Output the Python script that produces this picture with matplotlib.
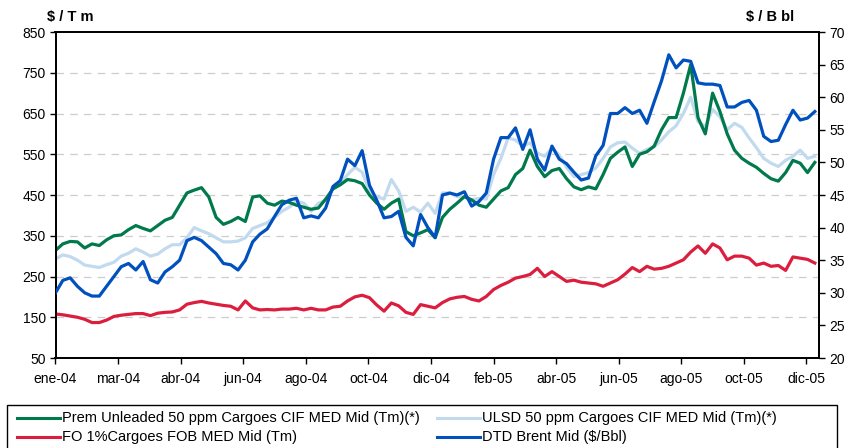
import numpy as np
import pandas as pd
import matplotlib
matplotlib.use("Agg")
import matplotlib.pyplot as plt
from matplotlib.lines import Line2D
from matplotlib.patches import Rectangle

plt.rcParams['font.family'] = ['Liberation Sans', 'DejaVu Sans']

# weekly readings, ene-04 .. dic-05
fechas = pd.date_range('2004-01-01', periods=105, freq='7D')

gasolina = [314, 330, 336, 335, 320, 330, 326, 340, 350, 352, 365, 375, 368, 362, 375, 388, 395, 425,
            455, 462, 468, 445, 395, 378, 385, 395, 385, 445, 448, 430, 425, 435, 432, 425,
            420, 415, 418, 440, 465, 475, 488, 485, 478, 450, 430, 415, 430, 440, 360, 350, 357, 365,
            345, 395, 415, 430, 446, 438, 425, 420, 440, 460, 468, 500, 515, 560, 520, 495, 510, 515,
            490, 470,
            463, 470, 465, 500, 540, 555, 568, 520, 550, 556, 570, 610, 640, 640, 700, 770, 640, 600,
            700, 655, 600, 560, 540, 528, 518, 503, 490, 484, 505, 535, 528, 505, 530]

ulsd = [293, 303, 299, 290, 278, 275, 272, 279, 285, 300, 307, 318, 310, 300, 305, 318, 328, 328,
        345, 370, 362, 355, 345, 335, 335, 337, 345, 368, 375, 382, 395, 410, 420, 435,
        430, 410, 430, 436, 465, 478, 500, 518, 506, 460, 446, 440, 488, 460, 410, 420, 408, 430,
        405, 455, 455, 446, 446, 438, 442, 440, 500, 540, 590, 585, 570, 578, 553, 545, 565, 548,
        518, 495,
        500, 505, 516, 540, 568, 578, 580, 565, 552, 562, 568, 585, 605, 620, 650, 690, 630, 618,
        660, 642, 610, 626, 616, 590, 566, 540, 528, 520, 535, 545, 560, 540, 545]

fuel = [158, 156, 153, 150, 145, 137, 137, 143, 152, 155, 157, 159, 159, 154, 160, 162, 163, 168,
        182, 186, 189, 185, 182, 179, 177, 168, 190, 173, 168, 169, 168, 170, 170, 172,
        168, 172, 168, 168, 175, 177, 190, 200, 204, 198, 180, 165, 185, 178, 162, 157, 181, 177,
        173, 186, 195, 199, 201, 194, 190, 201, 218, 228, 236, 246, 250, 255, 270, 250, 262, 250,
        238, 241,
        236, 234, 232, 226, 234, 242, 256, 272, 262, 275, 268, 270, 275, 283, 291, 310, 325, 307,
        330, 320, 291, 300, 300, 295, 278, 283, 275, 277, 265, 298, 295, 292, 283]

brent = [30.0, 31.9, 32.3, 31.0, 30.0, 29.5, 29.5, 31.0, 32.5, 34.0, 34.5, 33.5, 34.8, 32.0, 31.5,
         33.2, 34.0, 35.0, 38.0, 38.5, 38.0, 37.0, 36.0, 34.5, 34.3, 33.5, 35.0, 37.8, 39.0, 39.8,
         41.7, 43.5, 44.2, 44.5,
         41.5, 41.8, 41.5, 43.0, 46.3, 47.2, 50.5, 49.5, 51.8, 46.5, 44.2, 41.5, 41.7, 42.5, 38.5,
         37.2, 42.0, 40.0, 38.5, 45.0, 45.3, 45.0, 45.5, 43.3, 44.0, 45.3, 50.5, 53.8, 53.8, 55.3,
         52.0, 55.0, 50.5, 48.8, 52.5, 50.5, 49.8, 48.5,
         47.3, 47.6, 51.0, 52.6, 57.5, 57.5, 58.4, 57.5, 58.0, 56.0, 59.3, 62.5, 66.5, 64.5, 65.7,
         65.5, 62.2, 62.0, 62.0, 61.8, 58.5, 58.5, 59.2, 59.5, 58.0, 54.0, 53.2, 53.4, 55.8, 58.0,
         56.5, 56.8, 57.8]

etiquetas_x = ['ene-04', 'mar-04', 'abr-04', 'jun-04', 'ago-04', 'oct-04', 'dic-04',
               'feb-05', 'abr-05', 'jun-05', 'ago-05', 'oct-05', 'dic-05']
ticks_x = pd.date_range('2004-01-01', periods=13, freq='60D')

nombres = ['Prem Unleaded 50 ppm Cargoes CIF MED Mid (Tm)(*)',
           'ULSD 50 ppm Cargoes CIF MED Mid (Tm)(*)',
           'FO 1%Cargoes FOB MED Mid (Tm)',
           'DTD Brent Mid ($/Bbl)']
colores = ['#007A4C', '#C2DAEE', '#DC1E3E', '#0050BE']

W, H = 849, 448
fig = plt.figure(figsize=(W / 100, H / 100), dpi=100)
ax = fig.add_axes([55.5 / W, 1 - 358 / H, (819 - 55.5) / W, (358 - 32) / H])
ax2 = ax.twinx()

lw = 2.3
ax.plot(fechas, ulsd, color=colores[1], lw=lw, zorder=2)
ax.plot(fechas, gasolina, color=colores[0], lw=lw, zorder=3)
ax.plot(fechas, fuel, color=colores[2], lw=lw, zorder=3)
ax2.plot(fechas, brent, color=colores[3], lw=lw, zorder=4)

ax.set_ylim(50, 850)
ax.set_yticks(np.arange(50, 851, 100))
ax2.set_ylim(20, 70)
ax2.set_yticks(np.arange(20, 71, 5))
ax.set_xlim(pd.Timestamp('2004-01-01'), pd.Timestamp('2006-01-02'))
ax.set_xticks(ticks_x)
ax.set_xticklabels(etiquetas_x)

for y in np.arange(150, 751, 100):
    ax.axhline(y, color='#CDCDCD', lw=0.9, dashes=(6, 5), zorder=1)

for a in (ax, ax2):
    a.tick_params(direction='out', length=4, width=1, labelsize=10, colors='black')
    for s in a.spines.values():
        s.set_linewidth(1.3)
        s.set_color('black')
ax.tick_params(axis='x', pad=6)
ax.tick_params(axis='y', pad=3)

fig.text(47 / W, 1 - 17 / H, '$ / T m', fontsize=10.5, fontweight='bold', va='center', ha='left')
fig.text(794 / W, 1 - 17 / H, '$ / B bl', fontsize=10.5, fontweight='bold', va='center', ha='right')

# legend box (bottom edge runs off the picture)
fig.patches.append(Rectangle((7 / W, -2 / H), 830 / W, 45 / H, transform=fig.transFigure,
                             fill=False, edgecolor='black', lw=1.0))
filas = [418, 437]
cols = [17, 437]
for i in range(4):
    x0 = cols[i % 2]
    y0 = 1 - filas[i // 2] / H
    fig.add_artist(Line2D([x0 / W, (x0 + 43) / W], [y0, y0], transform=fig.transFigure,
                          color=colores[i], lw=2.2))
    fig.text((x0 + 45) / W, y0, nombres[i], fontsize=10.5, va='center', ha='left')

fig.savefig('out.png', dpi=100)
